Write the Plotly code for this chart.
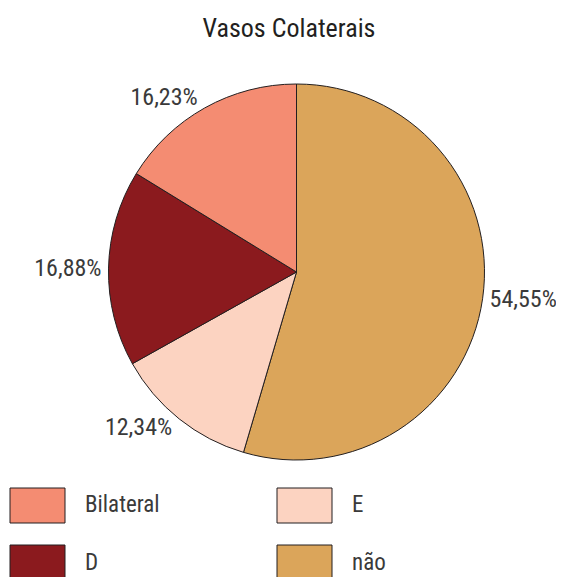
import plotly.graph_objects as go

title = "Vasos Colaterais"
categories = ["não", "E", "D", "Bilateral"]
values = [54.55, 12.34, 16.88, 16.23]
colors = {"não": "#DBA55A", "E": "#FCD3C1", "D": "#8B1A1E", "Bilateral": "#F48C72"}
legend_order = ["Bilateral", "E", "D", "não"]

FONT = "Liberation Sans Narrow, Roboto Condensed, Arial Narrow, Roboto, sans-serif"
W, H = 564, 577
OFF = 8  # page body margin offset

def px(x):
    return (x - OFF) / W

def py(y):
    return 1 - (y - OFF) / H

cx, cy, r = 296.5, 272, 188

fig = go.Figure(go.Pie(
    labels=categories,
    values=values,
    sort=False,
    direction="clockwise",
    rotation=0,
    marker=dict(colors=[colors[c] for c in categories], line=dict(color="#231F20", width=1)),
    texttemplate="%{value:.2f}%",
    textposition="outside",
    textfont=dict(family=FONT, size=24, color="#3A3A3A"),
    domain=dict(x=[px(cx - r), px(cx + r)], y=[py(cy + r), py(cy - r)]),
    showlegend=False,
    hoverinfo="label+percent",
))

shapes = []
annotations = []
for i, cat in enumerate(legend_order):
    row, col = divmod(i, 2)
    x0 = 10 + col * 267
    y0 = 488 + row * 57
    shapes.append(dict(type="rect", xref="paper", yref="paper",
                       x0=px(x0), x1=px(x0 + 55),
                       y0=py(y0), y1=py(y0 + 35),
                       fillcolor=colors[cat], line=dict(color="#231F20", width=1)))
    annotations.append(dict(xref="paper", yref="paper", x=px(x0 + 73), y=py(y0 + 17),
                            text=cat, showarrow=False, xanchor="left", yanchor="middle",
                            font=dict(family=FONT, size=23, color="#3A3A3A")))

fig.update_layout(
    width=W, height=H,
    margin=dict(l=0, r=0, t=0, b=0),
    paper_bgcolor="white", plot_bgcolor="white",
    separators=",.",
    title=dict(text=title, x=px(289), xanchor="center", y=py(28), yanchor="middle",
               font=dict(family=FONT, size=26, color="#231F20")),
    shapes=shapes,
    annotations=annotations,
)

fig.write_html("out.html")
